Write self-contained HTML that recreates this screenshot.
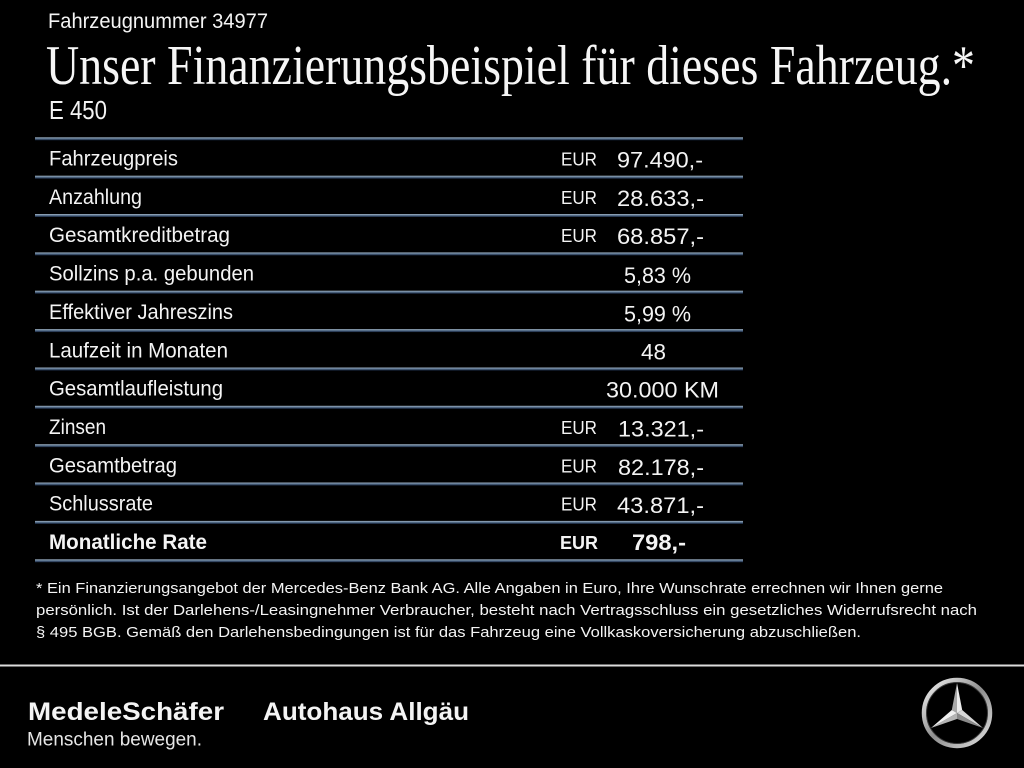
<!DOCTYPE html>
<html>
<head>
<meta charset="utf-8">
<style>
  html, body { margin: 0; padding: 0; background: #000; }
  body { width: 1024px; height: 768px; overflow: hidden; }
  svg { display: block; }
  .s { font-family: "Liberation Sans", Arial, sans-serif; fill: #f4f4f4; }
  .serif { font-family: "Liberation Serif", serif; fill: #f6f6f6; }
  .b { font-weight: bold; }
</style>
</head>
<body>
<svg width="1024" height="768" viewBox="0 0 1024 768" xmlns="http://www.w3.org/2000/svg">
  <defs>
    <linearGradient id="ln" x1="0" y1="0" x2="0" y2="1">
      <stop offset="0" stop-color="#a3b3c4"/>
      <stop offset="0.45" stop-color="#5a7490"/>
      <stop offset="1" stop-color="#13213a"/>
    </linearGradient>
    <linearGradient id="ring" x1="0" y1="0" x2="1" y2="1">
      <stop offset="0" stop-color="#f5f5f5"/>
      <stop offset="0.5" stop-color="#8e8e8e"/>
      <stop offset="1" stop-color="#e2e2e2"/>
    </linearGradient>
  </defs>
  <rect x="0" y="0" width="1024" height="768" fill="#000"/>

  <!-- Header -->
  <text class="s" x="48" y="28" font-size="21.5" textLength="220" lengthAdjust="spacingAndGlyphs">Fahrzeugnummer 34977</text>
  <text class="serif" x="46" y="84" font-size="56" textLength="929" lengthAdjust="spacingAndGlyphs">Unser Finanzierungsbeispiel für dieses Fahrzeug.*</text>
  <text class="s" x="49" y="119" font-size="26" textLength="58" lengthAdjust="spacingAndGlyphs">E 450</text>

  <!-- Table lines -->
  <rect x="35" y="137.3" width="708" height="3" fill="url(#ln)"/>
  <rect x="35" y="175.7" width="708" height="3" fill="url(#ln)"/>
  <rect x="35" y="214.0" width="708" height="3" fill="url(#ln)"/>
  <rect x="35" y="252.4" width="708" height="3" fill="url(#ln)"/>
  <rect x="35" y="290.7" width="708" height="3" fill="url(#ln)"/>
  <rect x="35" y="329.1" width="708" height="3" fill="url(#ln)"/>
  <rect x="35" y="367.5" width="708" height="3" fill="url(#ln)"/>
  <rect x="35" y="405.8" width="708" height="3" fill="url(#ln)"/>
  <rect x="35" y="444.2" width="708" height="3" fill="url(#ln)"/>
  <rect x="35" y="482.5" width="708" height="3" fill="url(#ln)"/>
  <rect x="35" y="520.9" width="708" height="3" fill="url(#ln)"/>
  <rect x="35" y="559.3" width="708" height="3" fill="url(#ln)"/>

  <!-- Labels -->
  <text class="s" x="49" y="165.5" font-size="21" textLength="129" lengthAdjust="spacingAndGlyphs">Fahrzeugpreis</text>
  <text class="s" x="49" y="203.9" font-size="21" textLength="93" lengthAdjust="spacingAndGlyphs">Anzahlung</text>
  <text class="s" x="49" y="242.2" font-size="21" textLength="181" lengthAdjust="spacingAndGlyphs">Gesamtkreditbetrag</text>
  <text class="s" x="49" y="280.6" font-size="21" textLength="205" lengthAdjust="spacingAndGlyphs">Sollzins p.a. gebunden</text>
  <text class="s" x="49" y="318.9" font-size="21" textLength="184" lengthAdjust="spacingAndGlyphs">Effektiver Jahreszins</text>
  <text class="s" x="49" y="357.3" font-size="21" textLength="179" lengthAdjust="spacingAndGlyphs">Laufzeit in Monaten</text>
  <text class="s" x="49" y="395.7" font-size="21" textLength="174" lengthAdjust="spacingAndGlyphs">Gesamtlaufleistung</text>
  <text class="s" x="49" y="434.0" font-size="21" textLength="57" lengthAdjust="spacingAndGlyphs">Zinsen</text>
  <text class="s" x="49" y="472.4" font-size="21" textLength="128" lengthAdjust="spacingAndGlyphs">Gesamtbetrag</text>
  <text class="s" x="49" y="510.7" font-size="21" textLength="104" lengthAdjust="spacingAndGlyphs">Schlussrate</text>
  <text class="s b" x="49" y="549.1" font-size="21" textLength="158" lengthAdjust="spacingAndGlyphs">Monatliche Rate</text>

  <!-- EUR column -->
  <text class="s" x="561" y="165.5" font-size="18.5" textLength="36" lengthAdjust="spacingAndGlyphs">EUR</text>
  <text class="s" x="561" y="203.9" font-size="18.5" textLength="36" lengthAdjust="spacingAndGlyphs">EUR</text>
  <text class="s" x="561" y="242.2" font-size="18.5" textLength="36" lengthAdjust="spacingAndGlyphs">EUR</text>
  <text class="s" x="561" y="434.0" font-size="18.5" textLength="36" lengthAdjust="spacingAndGlyphs">EUR</text>
  <text class="s" x="561" y="472.4" font-size="18.5" textLength="36" lengthAdjust="spacingAndGlyphs">EUR</text>
  <text class="s" x="561" y="510.7" font-size="18.5" textLength="36" lengthAdjust="spacingAndGlyphs">EUR</text>
  <text class="s b" x="560" y="549.1" font-size="18.5" textLength="38" lengthAdjust="spacingAndGlyphs">EUR</text>

  <!-- Values -->
  <text class="s" x="617" y="167.5" font-size="22" textLength="86" lengthAdjust="spacingAndGlyphs">97.490,-</text>
  <text class="s" x="617" y="205.9" font-size="22" textLength="87" lengthAdjust="spacingAndGlyphs">28.633,-</text>
  <text class="s" x="617" y="244.2" font-size="22" textLength="87" lengthAdjust="spacingAndGlyphs">68.857,-</text>
  <text class="s" x="624" y="283.1" font-size="22" textLength="67" lengthAdjust="spacingAndGlyphs">5,83 %</text>
  <text class="s" x="624" y="321.4" font-size="22" textLength="67" lengthAdjust="spacingAndGlyphs">5,99 %</text>
  <text class="s" x="641" y="359.3" font-size="22" textLength="25" lengthAdjust="spacingAndGlyphs">48</text>
  <text class="s" x="606" y="397.3" font-size="22" textLength="113" lengthAdjust="spacingAndGlyphs">30.000 KM</text>
  <text class="s" x="618" y="436.5" font-size="22" textLength="86" lengthAdjust="spacingAndGlyphs">13.321,-</text>
  <text class="s" x="618" y="474.9" font-size="22" textLength="86" lengthAdjust="spacingAndGlyphs">82.178,-</text>
  <text class="s" x="617" y="513.2" font-size="22" textLength="87" lengthAdjust="spacingAndGlyphs">43.871,-</text>
  <text class="s b" x="632" y="550.1" font-size="22" textLength="54" lengthAdjust="spacingAndGlyphs">798,-</text>

  <!-- Footnote -->
  <text class="s" x="36" y="593" font-size="14.5" textLength="907" lengthAdjust="spacingAndGlyphs">* Ein Finanzierungsangebot der Mercedes-Benz Bank AG. Alle Angaben in Euro, Ihre Wunschrate errechnen wir Ihnen gerne</text>
  <text class="s" x="36" y="615" font-size="14.5" textLength="941" lengthAdjust="spacingAndGlyphs">persönlich. Ist der Darlehens-/Leasingnehmer Verbraucher, besteht nach Vertragsschluss ein gesetzliches Widerrufsrecht nach</text>
  <text class="s" x="36" y="637" font-size="14.5" textLength="825" lengthAdjust="spacingAndGlyphs">§ 495 BGB. Gemäß den Darlehensbedingungen ist für das Fahrzeug eine Vollkaskoversicherung abzuschließen.</text>

  <!-- Separator -->
  <rect x="0" y="664.5" width="1024" height="2" fill="#dcdcdc"/>

  <!-- Logos -->
  <text class="s b" x="28" y="720" font-size="25" textLength="196" lengthAdjust="spacingAndGlyphs" fill="#fff">MedeleSchäfer</text>
  <text class="s b" x="263" y="720" font-size="25" textLength="206" lengthAdjust="spacingAndGlyphs" fill="#fff">Autohaus Allgäu</text>
  <text class="s" x="27" y="745.5" font-size="19.5" textLength="175" lengthAdjust="spacingAndGlyphs" style="fill:#e6e6e6">Menschen bewegen.</text>

  <!-- Mercedes star -->
  <circle cx="957" cy="713" r="33" fill="none" stroke="url(#ring)" stroke-width="4.5"/>
  <circle cx="957" cy="713" r="30.5" fill="none" stroke="#3a3a3a" stroke-width="1"/>
  <polygon points="957,713 951.8,710 957,683" fill="#a8a8a8"/>
  <polygon points="957,713 957,683 962.2,710" fill="#ececec"/>
  <polygon points="957,713 962.2,710 983,728" fill="#d6d6d6"/>
  <polygon points="957,713 983,728 957,719" fill="#8a8a8a"/>
  <polygon points="957,713 957,719 931,728" fill="#b4b4b4"/>
  <polygon points="957,713 931,728 951.8,710" fill="#f0f0f0"/>
</svg>
</body>
</html>
